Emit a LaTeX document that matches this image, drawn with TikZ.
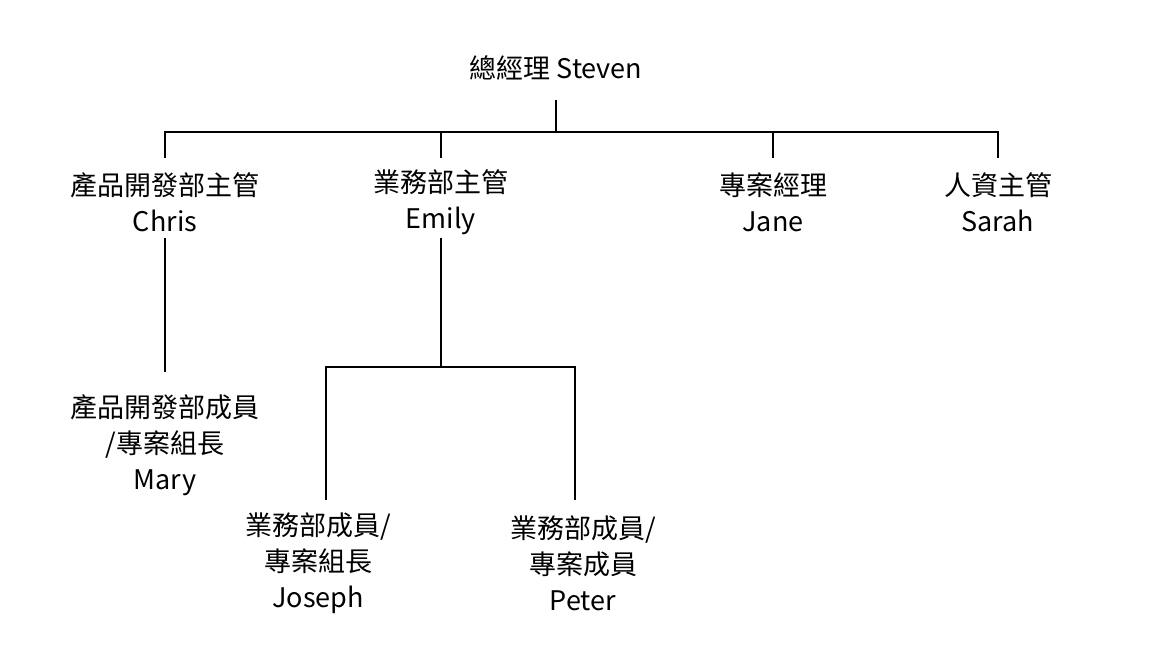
\documentclass[tikz,border=0pt]{standalone}
\usepackage{fontspec}
\setmainfont{Noto Sans CJK TC}[Scale=1]
\begin{document}
\begin{tikzpicture}[x=0.5pt,y=-0.5pt,
  lbl/.style={align=center,font=\fontsize{13.5}{18}\selectfont,inner sep=0pt},
  ln/.style={line width=0.9pt}]
\useasboundingbox (0,0) rectangle (1164,672);
\node[lbl] (steven) at (556,68) {總經理 Steven};
\node[lbl] (chris) at (165,202) {產品開發部主管\\Chris};
\node[lbl] (emily) at (441,202) {業務部主管\\Emily};
\node[lbl] (jane) at (773,202) {專案經理\\Jane};
\node[lbl] (sarah) at (998,202) {人資主管\\Sarah};
\node[lbl] (mary) at (165,445) {產品開發部成員\\/專案組長\\Mary};
\node[lbl] (joseph) at (318,563) {業務部成員/\\專案組長\\Joseph};
\node[lbl] (peter) at (583,563) {業務部成員/\\專案成員\\Peter};
\coordinate (top) at (556,132);
\coordinate (mid) at (441,367);
\draw[ln] (556,100) -- (top);
\draw[ln] (165,158) -- (165,132) -- (998,132) -- (998,158);
\draw[ln] (441,132) -- (441,158);
\draw[ln] (773,132) -- (773,158);
\draw[ln] (165,238) -- (165,372);
\draw[ln] (441,238) -- (mid);
\draw[ln] (326,500) -- (326,367) -- (575,367) -- (575,500);
\end{tikzpicture}
\end{document}
